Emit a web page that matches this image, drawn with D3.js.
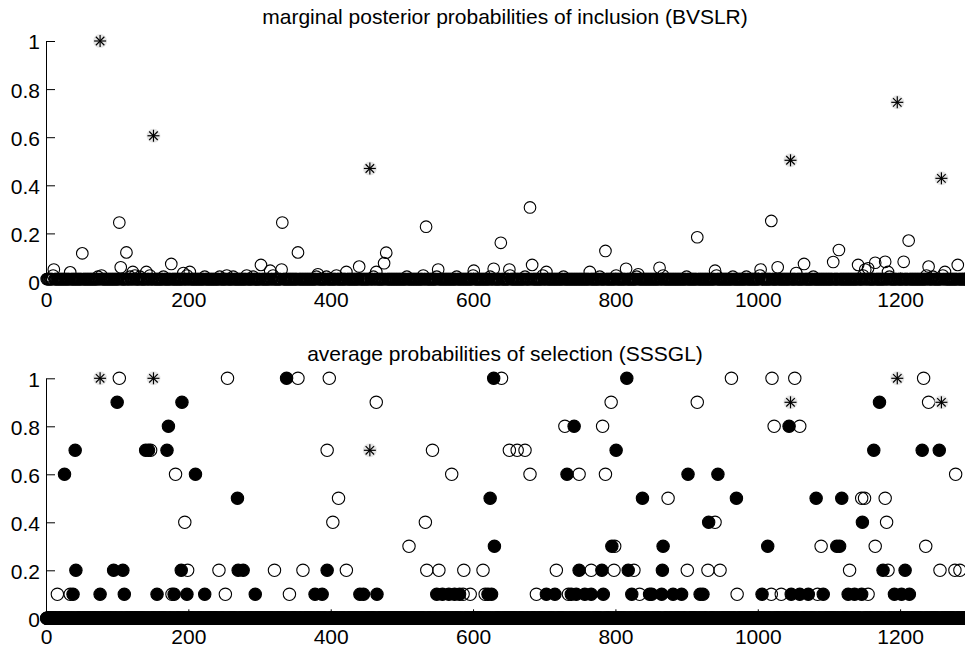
<!DOCTYPE html>
<html>
<head>
<meta charset="utf-8">
<script src="https://cdn.jsdelivr.net/npm/d3@7"></script>
<style>
  body { margin: 0; background: #fff; }
  svg { display: block; font-family: Helvetica, Arial, "Liberation Sans", sans-serif; }
  .title { font-size: 21px; }
  .tick text { font-size: 21px; fill: #000; }
  .tick line, .domain { stroke: #000; stroke-width: 1; }
</style>
</head>
<body>
<div id="chart"></div>
<script>
// number of candidate variables
const N = 1300;

// true variables (asterisks), same indices in both panels
const trueIdx = [76, 151, 455, 1046, 1196, 1258];
const bvslrTrueVal = [1.0, 0.606, 0.47, 0.504, 0.745, 0.429];
const sssglTrueVal = [1.0, 1.0, 0.7, 0.9, 1.0, 0.9];

// BVSLR: the variables that stand out above the near-zero bulk
const bvslrIdx = [11, 34, 51, 103, 105, 113, 122, 141, 176, 193, 202, 302, 315, 331, 332, 354, 382,
  422, 440, 464, 475, 478, 534, 551, 601, 629, 639, 651, 680, 683, 703, 764, 786, 815, 832,
  862, 915, 940, 1004, 1019, 1028, 1054, 1065, 1106, 1114, 1141, 1151, 1155, 1165, 1179, 1183,
  1205, 1212, 1240, 1263, 1281];
const bvslrVal = [0.05, 0.038, 0.117, 0.245, 0.059, 0.121, 0.04, 0.04, 0.073, 0.035, 0.04, 0.069, 0.045, 0.05, 0.245, 0.121, 0.03,
  0.04, 0.062, 0.04, 0.076, 0.12, 0.228, 0.05, 0.045, 0.053, 0.161, 0.05, 0.308, 0.069, 0.04, 0.04, 0.127, 0.053, 0.03,
  0.057, 0.184, 0.045, 0.05, 0.252, 0.059, 0.035, 0.073, 0.081, 0.131, 0.069, 0.05, 0.055, 0.078, 0.082, 0.04,
  0.082, 0.17, 0.062, 0.04, 0.069];
// small ones just peeking above the band
const bvslrLowIdx = [10, 73, 78, 118, 125, 132, 146, 165, 198, 223, 244, 254, 263, 282, 291, 319, 380, 394,
  408, 460, 507, 530, 549, 577, 600, 624, 652, 673, 698, 727, 778, 801, 830, 867, 900, 942, 965, 984,
  1003, 1078, 1148, 1185, 1237, 1246, 1260];
const bvslrLowVal = [0.025, 0.02, 0.025, 0.02, 0.025, 0.02, 0.025, 0.02, 0.025, 0.02, 0.02, 0.025, 0.02, 0.025, 0.02, 0.025, 0.02, 0.02,
  0.025, 0.02, 0.02, 0.025, 0.02, 0.02, 0.025, 0.02, 0.025, 0.02, 0.025, 0.02, 0.02, 0.025, 0.02, 0.025, 0.02, 0.025, 0.02, 0.02,
  0.025, 0.02, 0.025, 0.02, 0.025, 0.02, 0.025];
const bvslrBase = 0.01; // level of all remaining variables

// SSSGL: [probability, variable indices]; unlisted variables are at 0
const sssglOpenRows = [
  [1.0, [103, 255, 354, 398, 640, 963, 1020, 1052, 1233]],
  [0.9, [464, 794, 915, 1240]],
  [0.8, [729, 782, 1023, 1059]],
  [0.7, [147, 395, 543, 651, 662, 673]],
  [0.6, [182, 570, 680, 749, 786, 1278]],
  [0.5, [411, 874, 1146, 1150, 1179]],
  [0.4, [195, 403, 533, 940, 1181]],
  [0.3, [510, 799, 1089, 1165, 1236]],
  [0.2, [199, 243, 321, 361, 422, 535, 552, 587, 614, 717, 766, 798, 826, 901, 930, 947, 1129, 1183, 1256, 1277, 1284]],
  [0.1, [16, 34, 177, 252, 342, 586, 596, 617, 689, 734, 834, 971, 1019, 1033, 1084, 1155]]
];
const sssglFilledRows = [
  [1.0, [338, 629, 816]],
  [0.9, [100, 191, 1171]],
  [0.8, [172, 742, 1044]],
  [0.7, [41, 140, 144, 170, 801, 1163, 1231, 1255]],
  [0.6, [26, 210, 732, 902, 944]],
  [0.5, [269, 624, 838, 970, 1082, 1118]],
  [0.4, [931, 1147]],
  [0.3, [630, 795, 867, 1014, 1111, 1115]],
  [0.2, [42, 95, 108, 190, 270, 277, 395, 749, 781, 818, 866, 1176, 1207]],
  [0.1, [38, 76, 110, 156, 180, 198, 223, 294, 378, 388, 441, 446, 465, 549, 557, 566, 574, 581, 621, 626,
    703, 715, 738, 745, 757, 766, 783, 823, 848, 851, 865, 881, 893, 919, 923, 1006, 1047, 1059, 1071,
    1092, 1127, 1136, 1146, 1192, 1202, 1213]]
];

const xTicks = [0, 200, 400, 600, 800, 1000, 1200];
const yTicks = [0, 0.2, 0.4, 0.6, 0.8, 1];

const width = 965, height = 648;

const svg = d3.select("#chart").append("svg")
  .attr("width", width)
  .attr("height", height);

const x = d3.scaleLinear().domain([0, 1300]).range([46, 971.3]);

// builds one value per variable from the listed ones
function fullSeries(idx, val, base) {
  const m = new Map();
  idx.forEach((i, k) => m.set(i, val[k]));
  return d3.range(1, N + 1).map(i => ({ i: i, v: m.has(i) ? m.get(i) : base }));
}
function fromRows(rows) {
  const idx = [], val = [];
  rows.forEach(([v, ids]) => ids.forEach(i => { idx.push(i); val.push(v); }));
  return fullSeries(idx, val, 0);
}

function drawAxes(y) {
  svg.append("g")
    .attr("transform", `translate(0, ${y(0)})`)
    .call(d3.axisBottom(x).tickValues(xTicks).tickFormat(d3.format("d"))
      .tickSizeInner(-9).tickSizeOuter(0).tickPadding(11));

  svg.append("g")
    .attr("transform", `translate(${x(0)}, 0)`)
    .call(d3.axisLeft(y).tickValues(yTicks).tickFormat(d3.format("~g"))
      .tickSizeInner(-9).tickSizeOuter(0).tickPadding(6))
    .selectAll("text").attr("dy", "0.38em");
}

function drawStars(y, vals) {
  const g = svg.append("g");
  const pts = trueIdx.map((i, k) => ({ i: i, v: vals[k] }));
  g.selectAll("circle.halo").data(pts).join("circle")
    .attr("class", "halo")
    .attr("cx", d => x(d.i)).attr("cy", d => y(d.v))
    .attr("r", 7).attr("fill", "#e6e6e6");
  const arm = 6;
  [0, 45, 90, 135].forEach(a => {
    const dx = arm * Math.cos(a * Math.PI / 180), dy = arm * Math.sin(a * Math.PI / 180);
    g.selectAll(null).data(pts).join("line")
      .attr("x1", d => x(d.i) - dx).attr("y1", d => y(d.v) - dy)
      .attr("x2", d => x(d.i) + dx).attr("y2", d => y(d.v) + dy)
      .attr("stroke", "#000").attr("stroke-width", 1.2);
  });
}

// ---- top panel: BVSLR
const yTop = d3.scaleLinear().domain([0, 1]).range([281.5, 41]);
drawAxes(yTop);

const bvslr = fullSeries(bvslrIdx.concat(bvslrLowIdx), bvslrVal.concat(bvslrLowVal), bvslrBase)
  .filter(d => !trueIdx.includes(d.i));
svg.append("g").selectAll("circle").data(bvslr).join("circle")
  .attr("cx", d => x(d.i)).attr("cy", d => yTop(d.v))
  .attr("r", 5.8)
  .attr("fill", "none").attr("stroke", "#000").attr("stroke-width", 1.1);
drawStars(yTop, bvslrTrueVal);

svg.append("text").attr("class", "title")
  .attr("x", 505).attr("y", 23.5).attr("text-anchor", "middle")
  .text("marginal posterior probabilities of inclusion (BVSLR)");

// ---- bottom panel: SSSGL
const yBot = d3.scaleLinear().domain([0, 1]).range([618.3, 378.3]);
drawAxes(yBot);

svg.append("g").selectAll("circle").data(fromRows(sssglOpenRows)).join("circle")
  .attr("cx", d => x(d.i)).attr("cy", d => yBot(d.v))
  .attr("r", 6.2)
  .attr("fill", "none").attr("stroke", "#000").attr("stroke-width", 1.1);

svg.append("g").selectAll("circle").data(fromRows(sssglFilledRows)).join("circle")
  .attr("cx", d => x(d.i)).attr("cy", d => yBot(d.v))
  .attr("r", 6.2)
  .attr("fill", "#000").attr("stroke", "#000").attr("stroke-width", 1.1);
drawStars(yBot, sssglTrueVal);

svg.append("text").attr("class", "title")
  .attr("x", 505).attr("y", 361).attr("text-anchor", "middle")
  .text("average probabilities of selection (SSSGL)");
</script>
</body>
</html>
